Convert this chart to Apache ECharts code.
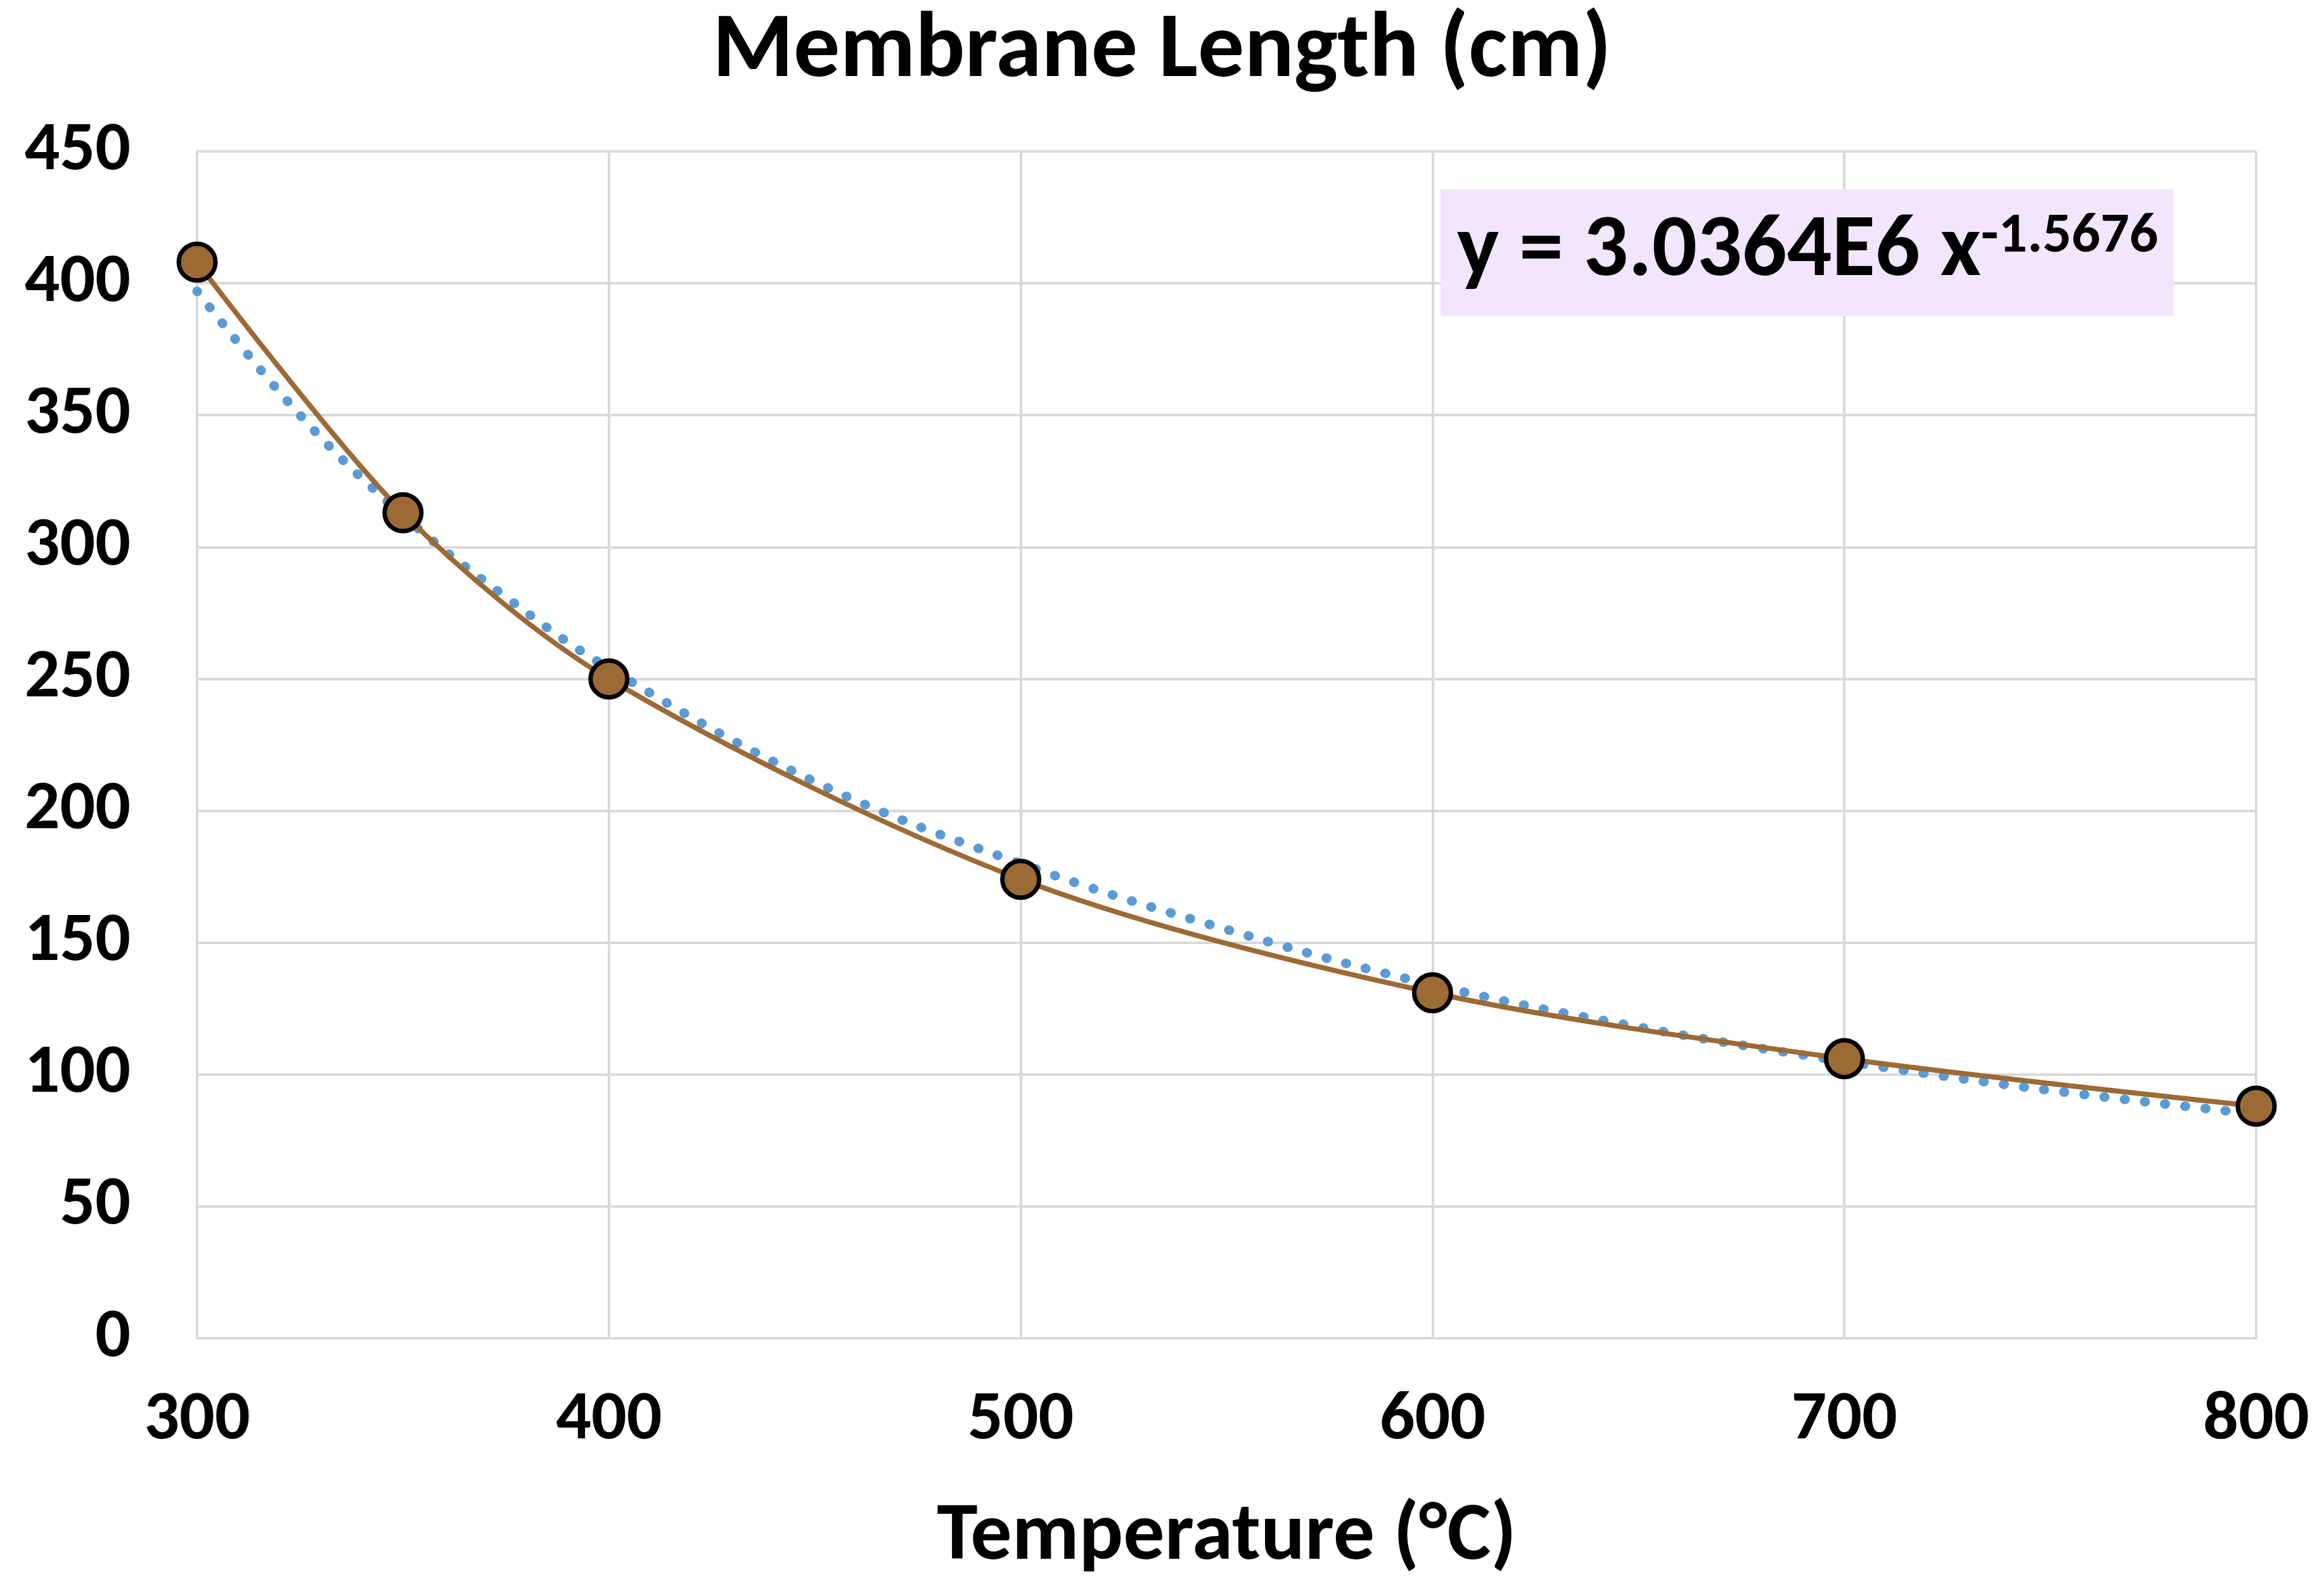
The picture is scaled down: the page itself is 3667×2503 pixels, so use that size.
<!DOCTYPE html>
<html><head><meta charset="utf-8">
<script src="https://cdn.jsdelivr.net/npm/echarts@6/dist/echarts.min.js"></script>
<style>html,body{margin:0;padding:0;background:#fff}#c{width:3667px;height:2503px}</style>
</head><body><div id="c"></div>
<script>
const temps = [300, 350, 400, 500, 600, 700, 800];
const lengths = [408, 313, 250, 174, 131, 106, 88];
const trendX = [300, 325, 350, 375, 400, 450, 500, 550, 600, 650, 700, 750, 800];
const trendY = [397, 350, 312, 281, 254, 211, 180, 155, 134, 118, 105, 94, 85];
const yTicks = [0, 50, 100, 150, 200, 250, 300, 350, 400, 450];
const xTicks = [300, 400, 500, 600, 700, 800];
const font = 'Calibri, "Liberation Sans", "DejaVu Sans", sans-serif';
const chart = echarts.init(document.getElementById('c'));
chart.setOption({
  animation: false,
  backgroundColor: '#fff',
  title: {text: 'Membrane Length (cm)', left: 'center', top: 5,
    textStyle: {fontFamily: font, fontWeight: 'bold', fontSize: 146, color: '#000'}},
  grid: {left: 311, right: 107, top: 239, bottom: 391},
  xAxis: {type: 'value', min: 300, max: 800, interval: 100,
    name: 'Temperature (°C)', nameLocation: 'middle', nameGap: 250,
    nameTextStyle: {fontFamily: font, fontWeight: 'bold', fontSize: 130, color: '#000'},
    axisLine: {show: true, lineStyle: {color: '#D9D9D9', width: 4}},
    axisTick: {show: false},
    axisLabel: {fontFamily: font, fontWeight: 'bold', fontSize: 110, color: '#000', margin: 75,
      formatter: v => xTicks.includes(v) ? String(v) : ''},
    splitLine: {show: true, lineStyle: {color: '#D9D9D9', width: 4}}},
  yAxis: {type: 'value', min: 0, max: 450, interval: 50,
    axisLine: {show: true, lineStyle: {color: '#D9D9D9', width: 4}},
    axisTick: {show: false},
    axisLabel: {fontFamily: font, fontWeight: 'bold', fontSize: 110, color: '#000', margin: 105,
      align: 'right', formatter: v => yTicks.includes(v) ? String(v) : ''},
    splitLine: {show: true, lineStyle: {color: '#D9D9D9', width: 4}}},
  series: [
    {type: 'line', data: trendX.map((x, i) => [x, trendY[i]]), smooth: 0.4, showSymbol: false, z: 3,
      lineStyle: {color: '#5B9BD5', width: 15, type: [1, 31], cap: 'round'}},
    {type: 'line', data: temps.map((x, i) => [x, lengths[i]]), smooth: 0.3, z: 4,
      lineStyle: {color: '#9C6A35', width: 8},
      symbol: 'circle', symbolSize: 58,
      itemStyle: {color: '#9C6A35', borderColor: '#000', borderWidth: 7}}
  ],
  graphic: [{type: 'text', left: 2273, top: 299, z: 10,
    style: {
      text: '{b|y = 3.0364E6 x}{s|-1.5676}',
      backgroundColor: '#F1E6FD', padding: [30, 24, 30, 26],
      rich: {
        b: {fontFamily: font, fontWeight: 'bold', fontSize: 140, fill: '#000', verticalAlign: 'bottom', lineHeight: 140},
        s: {fontFamily: font, fontWeight: 'bold', fontSize: 90, fill: '#000', verticalAlign: 'top', lineHeight: 140, padding: [0, 0, 50, 0]}
      }
    }}]
});
</script></body></html>
